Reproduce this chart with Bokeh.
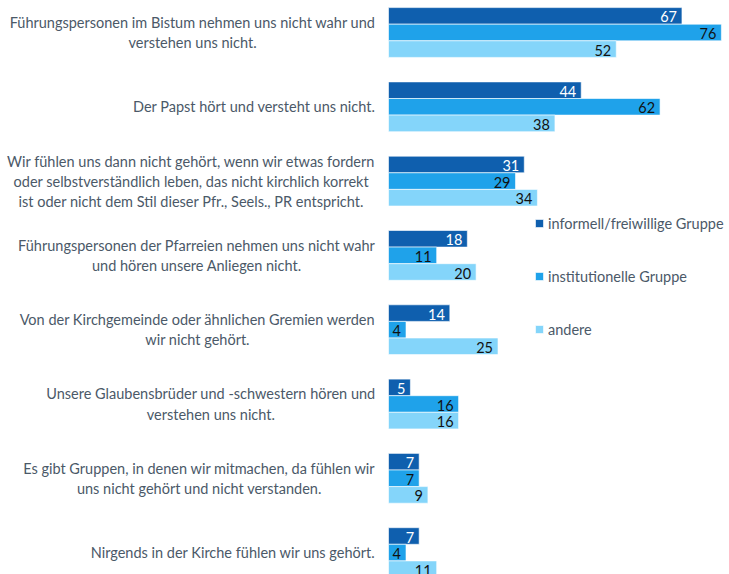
from bokeh.plotting import figure
from bokeh.models import ColumnDataSource, Range1d, Legend, LegendItem
from bokeh.core.properties import value
from bokeh.embed import file_html
from bokeh.resources import INLINE

categories = [
    "Führungspersonen im Bistum nehmen uns nicht wahr und\nverstehen uns nicht.",
    "Der Papst hört und versteht uns nicht.",
    "Wir fühlen uns dann nicht gehört, wenn wir etwas fordern\noder selbstverständlich leben, das nicht kirchlich korrekt\nist oder nicht dem Stil dieser Pfr., Seels., PR entspricht.",
    "Führungspersonen der Pfarreien nehmen uns nicht wahr\nund hören unsere Anliegen nicht.",
    "Von der Kirchgemeinde oder ähnlichen Gremien werden\nwir nicht gehört.",
    "Unsere Glaubensbrüder und -schwestern hören und\nverstehen uns nicht.",
    "Es gibt Gruppen, in denen wir mitmachen, da fühlen wir\nuns nicht gehört und nicht verstanden.",
    "Nirgends in der Kirche fühlen wir uns gehört.",
]
series_names = ["informell/freiwillige Gruppe", "institutionelle Gruppe", "andere"]
informell = [67, 44, 31, 18, 14, 5, 7, 7]
institutionell = [76, 62, 29, 11, 4, 16, 7, 4]
andere = [52, 38, 34, 20, 25, 16, 9, 11]
series_values = [informell, institutionell, andere]

colors = ["#0f5fae", "#1fa2ea", "#84d5fa"]
label_colors = ["#ffffff", "#111111", "#111111"]
FONT = "Lato"
TEXT_COLOR = "#4b5968"

W, H = 729, 574
px_per_unit_x = 4.38
x0_px = 388
pitch = 74.3
top_px = 32
bar_h = 16.6 / pitch

p = figure(width=W, height=H, output_backend="svg", toolbar_location=None,
           x_range=Range1d(-x0_px / px_per_unit_x, (W - x0_px) / px_per_unit_x),
           y_range=Range1d(-top_px / pitch + H / pitch, -top_px / pitch),
           min_border=0, min_border_left=0, min_border_right=0,
           min_border_top=0, min_border_bottom=0)
p.axis.visible = False
p.grid.visible = False
p.outline_line_color = None
p.background_fill_color = "white"
p.border_fill_color = "white"

renderers = []
for k, (vals, col, lc) in enumerate(zip(series_values, colors, label_colors)):
    ys = [i + (k - 1) * bar_h for i in range(len(vals))]
    src = ColumnDataSource(dict(y=ys, v=vals, t=[str(v) for v in vals]))
    r = p.hbar(y="y", left=0, right="v", height=bar_h, source=src,
               fill_color=col, line_color="white", line_width=1, line_alpha=0.6)
    renderers.append(r)
    p.text(x="v", y="y", text="t", source=src, x_offset=-5, y_offset=1,
           text_align="right", text_baseline="middle",
           text_font=value(FONT), text_font_size="14.5px", text_color=lc)

lab_src = ColumnDataSource(dict(x=[-13 / px_per_unit_x] * len(categories),
                                y=list(range(len(categories))), t=categories))
p.text(x="x", y="y", text="t", source=lab_src, anchor="center_right",
       text_align="center", text_baseline="middle", text_line_height=1.18,
       text_font=value(FONT), text_font_size="14.5px", text_color=TEXT_COLOR)

legend = Legend(items=[LegendItem(label=n, renderers=[r]) for n, r in zip(series_names, renderers)],
                location=(534, 235), orientation="vertical",
                glyph_width=10, glyph_height=10, label_standoff=4,
                label_height=20, spacing=33, padding=0, margin=0,
                label_text_font=FONT, label_text_font_size="14.5px",
                label_text_color=TEXT_COLOR,
                background_fill_alpha=0, border_line_color=None)
p.add_layout(legend, "center")

open("out.html", "w").write(file_html(p, INLINE))
